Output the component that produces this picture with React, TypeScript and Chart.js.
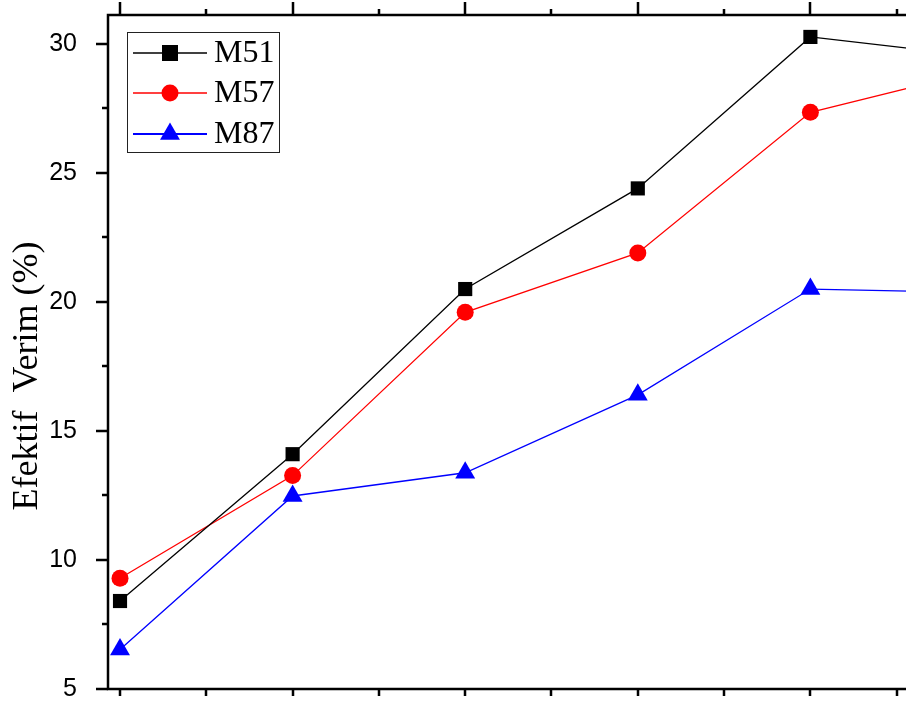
import { useEffect, useRef } from 'react';
import { Chart, registerables } from 'chart.js';

Chart.register(...registerables);

// ---- data ----
const xValues = [1, 2, 3, 4, 5, 6];
const seriesNames = ['M51', 'M57', 'M87'];
const m51 = [8.41, 14.1, 20.5, 24.4, 30.27, 29.5];
const m57 = [9.29, 13.27, 19.6, 21.9, 27.35, 29.0];
const m87 = [6.53, 12.48, 13.38, 16.4, 20.5, 20.36];
const yMajorTicks = [5, 10, 15, 20, 25, 30];
const yTitle = 'Efektif  Verim (%)';

const colors = ['#000000', '#ff0000', '#0000ff'];
const pointStyles = ['rect', 'circle', 'triangle'];
const pointRadii = [10, 8.5, 11.5];

const axesPlugin = {
  id: 'originAxes',
  afterDatasetsDraw(chart: any) {
    const { ctx, chartArea: a, scales } = chart;
    const x = scales.x;
    const y = scales.y;
    ctx.save();
    ctx.strokeStyle = '#000';
    ctx.lineWidth = 2.5;
    ctx.beginPath();
    ctx.moveTo(a.left, a.top);
    ctx.lineTo(a.right, a.top);
    ctx.moveTo(a.left, a.bottom);
    ctx.lineTo(a.right, a.bottom);
    ctx.moveTo(a.left, a.top - 1.25);
    ctx.lineTo(a.left, a.bottom + 1.25);
    ctx.moveTo(a.right, a.top - 1.25);
    ctx.lineTo(a.right, a.bottom + 1.25);
    ctx.stroke();
    ctx.beginPath();
    for (let v = y.min; v <= y.max + 1e-9; v += 2.5) {
      const py = Math.round(y.getPixelForValue(v));
      const major = Math.abs(v % 5) < 1e-6;
      ctx.moveTo(a.left, py);
      ctx.lineTo(a.left - (major ? 12 : 6), py);
    }
    for (let v = 1; v <= x.max + 1e-9; v += 0.5) {
      const px = Math.round(x.getPixelForValue(v));
      const major = Math.abs(v % 1) < 1e-6;
      ctx.moveTo(px, a.top);
      ctx.lineTo(px, a.top - (major ? 13 : 6));
      ctx.moveTo(px, a.bottom);
      ctx.lineTo(px, a.bottom + 7);
    }
    ctx.stroke();
    // y-axis title
    ctx.translate(28, (a.top + a.bottom) / 2 + 24);
    ctx.rotate(-Math.PI / 2);
    ctx.fillStyle = '#000';
    ctx.font = '36px "Liberation Serif"';
    ctx.textAlign = 'center';
    ctx.textBaseline = 'middle';
    ctx.fillText(yTitle, 0, 0);
    ctx.restore();
  },
};

function drawMarker(ctx: CanvasRenderingContext2D, style: string, cx: number, cy: number, r: number) {
  ctx.beginPath();
  if (style === 'rect') {
    const s = Math.SQRT1_2 * r;
    ctx.rect(cx - s, cy - s, 2 * s, 2 * s);
  } else if (style === 'circle') {
    ctx.arc(cx, cy, r, 0, Math.PI * 2);
  } else {
    for (let i = 0; i < 3; i++) {
      const ang = -Math.PI / 2 + (i * 2 * Math.PI) / 3;
      const px = cx + r * Math.cos(ang);
      const py = cy + r * Math.sin(ang);
      if (i === 0) ctx.moveTo(px, py);
      else ctx.lineTo(px, py);
    }
    ctx.closePath();
  }
  ctx.fill();
}

const legendPlugin = {
  id: 'boxLegend',
  afterDraw(chart: any) {
    const ctx: CanvasRenderingContext2D = chart.ctx;
    ctx.save();
    ctx.fillStyle = '#fff';
    ctx.fillRect(127, 32, 152, 120);
    ctx.strokeStyle = '#222';
    ctx.lineWidth = 1;
    ctx.strokeRect(127.5, 32.5, 152, 120);
    const rows = [53, 93, 134];
    chart.data.datasets.forEach((ds: any, i: number) => {
      const yy = rows[i];
      ctx.strokeStyle = ds.borderColor;
      ctx.lineWidth = i === 2 ? 2 : 1.3;
      ctx.beginPath();
      ctx.moveTo(133, yy);
      ctx.lineTo(207, yy);
      ctx.stroke();
      ctx.fillStyle = ds.borderColor;
      drawMarker(ctx, pointStyles[i], 170, yy, i === 0 ? 11.3 : pointRadii[i]);
      ctx.fillStyle = '#000';
      ctx.font = '32px "Liberation Serif"';
      ctx.textBaseline = 'middle';
      ctx.textAlign = 'left';
      ctx.fillText(ds.label, 214, yy + 1);
    });
    ctx.restore();
  },
};

export default function App() {
  const ref = useRef<HTMLCanvasElement | null>(null);
  useEffect(() => {
    if (!ref.current) return;
    const series = [m51, m57, m87];
    const chart = new Chart(ref.current, {
      type: 'line',
      data: {
        datasets: series.map((vals, i) => ({
          label: seriesNames[i],
          data: vals.map((v, j) => ({ x: xValues[j], y: v })),
          borderColor: colors[i],
          backgroundColor: colors[i],
          borderWidth: 1.3,
          tension: 0,
          pointStyle: pointStyles[i] as any,
          pointRadius: pointRadii[i],
          pointBorderWidth: 0,
          pointBackgroundColor: colors[i],
          fill: false,
        })),
      },
      options: {
        responsive: false,
        animation: false,
        devicePixelRatio: 1,
        layout: { padding: { top: 15, right: 25, bottom: 15, left: 0 } },
        plugins: { legend: { display: false }, tooltip: { enabled: false } },
        scales: {
          x: { type: 'linear', display: false, min: 0.9304, max: 6.0696 },
          y: {
            type: 'linear',
            min: 5,
            max: 31.12,
            afterBuildTicks: (s: any) => {
              s.ticks = yMajorTicks.map((v) => ({ value: v }));
            },
            afterFit: (s: any) => {
              s.width = 108;
              s.paddingTop = 0;
              s.paddingBottom = 0;
            },
            grid: { display: false },
            border: { display: false },
            ticks: {
              font: { family: 'Liberation Sans', size: 25 },
              color: '#000',
              padding: 23,
            },
            title: { display: false },
          },
        },
      },
      plugins: [axesPlugin, legendPlugin],
    });
    return () => chart.destroy();
  }, []);
  return (
    <div style={{ position: 'absolute', left: 0, top: 0, width: 906, height: 704, overflow: 'hidden', background: '#fff' }}>
      <canvas ref={ref} width={1020} height={704} style={{ display: 'block' }} />
    </div>
  );
}
